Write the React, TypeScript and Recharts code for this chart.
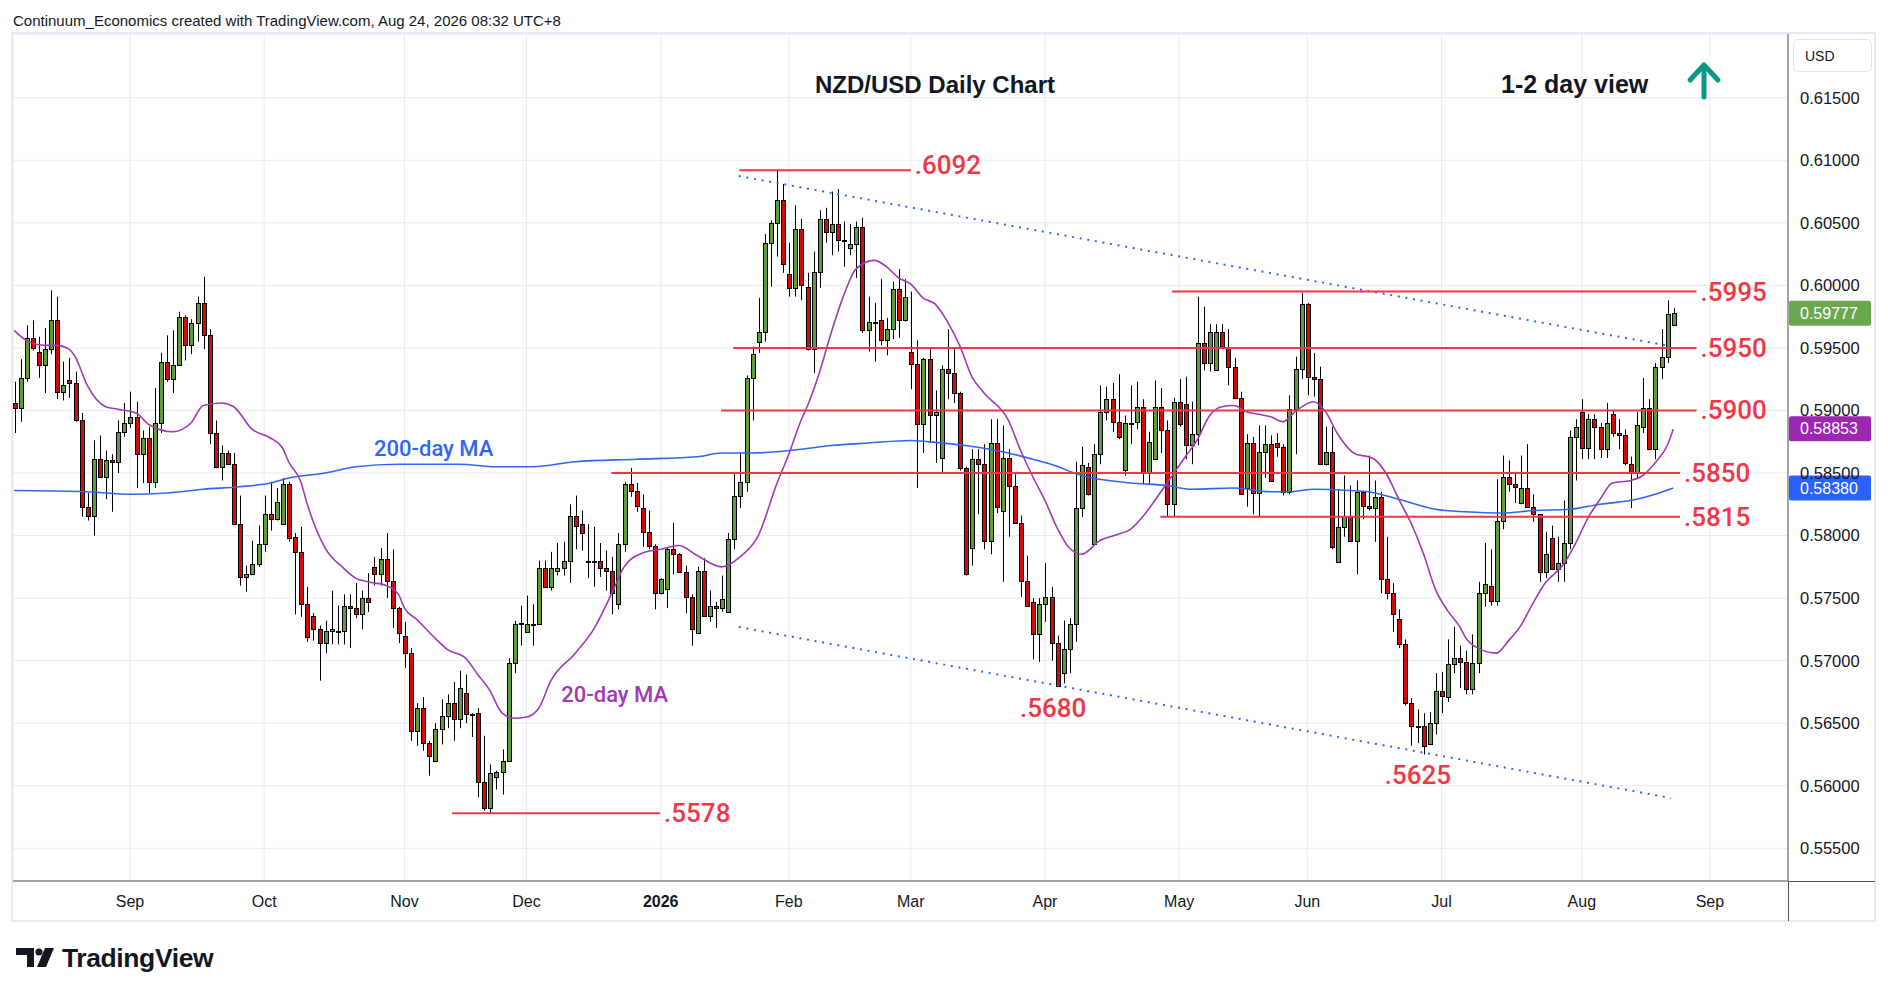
import React from 'react';
import {
  ComposedChart,
  Bar,
  Line,
  XAxis,
  YAxis,
  CartesianGrid,
  ReferenceLine,
  ReferenceDot,
} from 'recharts';

// daily candles, NZD/USD, index 0 = 5 Aug 2025 ... 272 = 24 Aug 2026
const opens = [
  0.5906, 0.5902, 0.5926, 0.5958, 0.5947, 0.5936, 0.5949, 0.5972, 0.5915, 0.5924,
  0.5922, 0.5892, 0.5823, 0.5816, 0.5861, 0.5847, 0.586, 0.5859, 0.5883, 0.589,
  0.5895, 0.5865, 0.5878, 0.5843, 0.589, 0.5939, 0.5925, 0.5936, 0.5975, 0.5952,
  0.597, 0.5986, 0.596, 0.5882, 0.5855, 0.5866, 0.5857, 0.5809, 0.5767, 0.5769,
  0.5777, 0.5793, 0.5817, 0.5813, 0.5809, 0.5841, 0.5799, 0.5787, 0.5745, 0.5736,
  0.5725, 0.5714, 0.5724, 0.5724, 0.5724, 0.5744, 0.5742, 0.5737, 0.575, 0.5775,
  0.5769, 0.5781, 0.5764, 0.5742, 0.572, 0.5706, 0.5644, 0.5662, 0.5634, 0.562,
  0.5645, 0.5656, 0.5666, 0.5653, 0.5674, 0.5657, 0.5658, 0.5603, 0.5582, 0.5607,
  0.5611, 0.562, 0.5698, 0.5729, 0.5723, 0.5729, 0.5729, 0.5774, 0.5759, 0.5772,
  0.5774, 0.578, 0.5816, 0.5809, 0.578, 0.578, 0.578, 0.5774, 0.5772, 0.5745,
  0.5793, 0.5841, 0.5836, 0.5822, 0.5803, 0.5792, 0.5754, 0.5757, 0.5789, 0.5785,
  0.5771, 0.5751, 0.5722, 0.5772, 0.5736, 0.5744, 0.5742, 0.5739, 0.5797, 0.5832,
  0.5843, 0.5926, 0.5955, 0.5963, 0.6034, 0.605, 0.6068, 0.6009, 0.5998, 0.6045,
  0.5999, 0.5949, 0.6011, 0.6053, 0.6043, 0.6049, 0.6036, 0.603, 0.6033, 0.6047,
  0.5964, 0.5971, 0.5972, 0.5956, 0.5965, 0.5997, 0.5972, 0.5947, 0.5937, 0.5889,
  0.5941, 0.5896, 0.5862, 0.5933, 0.593, 0.5914, 0.5854, 0.579, 0.5861, 0.5857,
  0.5796, 0.5874, 0.582, 0.5862, 0.584, 0.581, 0.5764, 0.5747, 0.5721, 0.5745,
  0.5751, 0.5714, 0.569, 0.5709, 0.5729, 0.5822, 0.5855, 0.5793, 0.5865, 0.5899,
  0.5909, 0.5891, 0.5852, 0.589, 0.5891, 0.5903, 0.5851, 0.5861, 0.5903, 0.5884,
  0.5825, 0.5907, 0.5905, 0.5872, 0.5881, 0.5954, 0.5938, 0.5932, 0.5963, 0.5951,
  0.5935, 0.591, 0.5838, 0.5874, 0.5834, 0.5867, 0.5873, 0.5874, 0.5871, 0.5835,
  0.5901, 0.5933, 0.5985, 0.5927, 0.5925, 0.5857, 0.5867, 0.5779, 0.5807, 0.5816,
  0.5796, 0.5835, 0.5824, 0.5822, 0.5831, 0.5765, 0.5754, 0.5733, 0.5713, 0.5666,
  0.5648, 0.5648, 0.5633, 0.565, 0.5676, 0.5671, 0.5697, 0.5702, 0.5699, 0.5677,
  0.5698, 0.5754, 0.576, 0.5748, 0.5812, 0.5847, 0.5841, 0.5826, 0.5838, 0.5823,
  0.5817, 0.5771, 0.5798, 0.5773, 0.5778, 0.5794, 0.5879, 0.5899, 0.587, 0.5893,
  0.5887, 0.5869, 0.5897, 0.5882, 0.588, 0.5857, 0.585, 0.5887, 0.5902, 0.5869,
  0.5935, 0.5943, 0.5968,
];

const highs = [
  0.5923, 0.5941, 0.5968, 0.5972, 0.5959, 0.5966, 0.5996, 0.5991, 0.5939, 0.5942,
  0.5931, 0.5898, 0.5834, 0.5876, 0.588, 0.5868, 0.5865, 0.5892, 0.5906, 0.5915,
  0.5907, 0.5884, 0.5887, 0.5918, 0.5946, 0.596, 0.5964, 0.5979, 0.5976, 0.5973,
  0.5991, 0.6007, 0.5965, 0.5892, 0.5872, 0.5868, 0.5866, 0.5832, 0.5776, 0.5796,
  0.5808, 0.5832, 0.5843, 0.5838, 0.5846, 0.5843, 0.5802, 0.5807, 0.5759, 0.5738,
  0.5728, 0.5732, 0.5756, 0.5744, 0.5753, 0.5753, 0.5762, 0.5756, 0.577, 0.5783,
  0.579, 0.5802, 0.5789, 0.5743, 0.5731, 0.571, 0.5666, 0.5671, 0.5636, 0.565,
  0.5669, 0.5673, 0.5683, 0.5692, 0.5689, 0.5658, 0.5662, 0.564, 0.5617, 0.5612,
  0.5629, 0.5702, 0.5732, 0.5744, 0.5752, 0.5745, 0.578, 0.578, 0.5787, 0.5794,
  0.5795, 0.5825, 0.5832, 0.582, 0.5809, 0.5807, 0.5794, 0.5788, 0.5783, 0.5802,
  0.5843, 0.5854, 0.5842, 0.5833, 0.582, 0.5793, 0.5766, 0.5791, 0.581, 0.5786,
  0.5776, 0.5753, 0.5775, 0.5782, 0.5756, 0.5747, 0.5768, 0.5802, 0.5851, 0.5866,
  0.5928, 0.5951, 0.599, 0.6041, 0.6052, 0.6092, 0.6081, 0.6034, 0.6064, 0.6053,
  0.601, 0.6027, 0.606, 0.6062, 0.6075, 0.6077, 0.6051, 0.6049, 0.6051, 0.6054,
  0.5991, 0.5986, 0.6005, 0.5974, 0.6003, 0.6013, 0.6005, 0.5995, 0.5956, 0.5942,
  0.5949, 0.5916, 0.5936, 0.5965, 0.5949, 0.5915, 0.5855, 0.5869, 0.5869, 0.5873,
  0.5893, 0.5893, 0.5888, 0.5869, 0.5849, 0.5816, 0.5784, 0.575, 0.575, 0.5778,
  0.5759, 0.572, 0.5732, 0.5734, 0.5859, 0.5871, 0.5858, 0.5873, 0.592, 0.5919,
  0.5922, 0.5929, 0.5896, 0.592, 0.5923, 0.5909, 0.5883, 0.5924, 0.5918, 0.5892,
  0.591, 0.5925, 0.5927, 0.5907, 0.5991, 0.5983, 0.5969, 0.5969, 0.5969, 0.5965,
  0.5942, 0.5915, 0.5881, 0.5879, 0.5888, 0.5888, 0.588, 0.5882, 0.5873, 0.5912,
  0.5943, 0.5994, 0.5986, 0.5946, 0.5935, 0.5887, 0.5887, 0.5837, 0.5848, 0.584,
  0.5844, 0.5835, 0.5864, 0.5844, 0.5835, 0.5799, 0.5762, 0.5741, 0.5717, 0.567,
  0.5661, 0.5658, 0.5659, 0.569, 0.5691, 0.5717, 0.5727, 0.5712, 0.5708, 0.5721,
  0.5763, 0.5794, 0.5789, 0.5845, 0.5864, 0.586, 0.5851, 0.5864, 0.5873, 0.5833,
  0.5817, 0.5803, 0.5808, 0.5799, 0.5828, 0.5884, 0.5893, 0.5909, 0.5897, 0.5897,
  0.589, 0.5906, 0.59, 0.5893, 0.5885, 0.5863, 0.5899, 0.5926, 0.5909, 0.5938,
  0.5965, 0.5988, 0.5982,
];

const lows = [
  0.5882, 0.5891, 0.5923, 0.5948, 0.5926, 0.5914, 0.5945, 0.5909, 0.5908, 0.591,
  0.5891, 0.5815, 0.5812, 0.58, 0.5846, 0.5829, 0.5819, 0.585, 0.5879, 0.5886,
  0.5838, 0.5842, 0.5834, 0.5838, 0.5882, 0.5923, 0.5914, 0.5936, 0.594, 0.5945,
  0.5955, 0.5949, 0.5873, 0.5855, 0.5844, 0.5857, 0.5809, 0.576, 0.5755, 0.5769,
  0.5775, 0.5787, 0.5804, 0.5812, 0.5809, 0.5795, 0.5737, 0.5735, 0.5715, 0.5716,
  0.5684, 0.5706, 0.5713, 0.5713, 0.5713, 0.571, 0.5734, 0.5725, 0.5739, 0.576,
  0.576, 0.575, 0.5726, 0.5714, 0.5694, 0.5636, 0.5632, 0.5628, 0.5608, 0.5619,
  0.5633, 0.5646, 0.5636, 0.5646, 0.565, 0.5639, 0.5591, 0.558, 0.5578, 0.5597,
  0.5593, 0.562, 0.569, 0.5712, 0.5723, 0.5712, 0.5729, 0.5759, 0.5756, 0.5768,
  0.5768, 0.5762, 0.5789, 0.5788, 0.5766, 0.5759, 0.5767, 0.5756, 0.5737, 0.5741,
  0.5787, 0.5831, 0.5819, 0.5791, 0.5789, 0.5741, 0.5753, 0.5742, 0.5769, 0.577,
  0.5738, 0.5712, 0.5722, 0.5736, 0.5731, 0.5726, 0.5739, 0.5738, 0.5789, 0.5822,
  0.5835, 0.5892, 0.5946, 0.5955, 0.5999, 0.6023, 0.601, 0.5991, 0.5991, 0.5988,
  0.5948, 0.593, 0.5998, 0.6034, 0.6024, 0.6027, 0.6015, 0.6024, 0.6006, 0.5962,
  0.5947, 0.5939, 0.5952, 0.5944, 0.5957, 0.5958, 0.5971, 0.5917, 0.5838, 0.5866,
  0.5874, 0.5858, 0.585, 0.5909, 0.5906, 0.5852, 0.5768, 0.5776, 0.5817, 0.5789,
  0.5785, 0.5818, 0.5763, 0.5799, 0.581, 0.5751, 0.5744, 0.5701, 0.5699, 0.5731,
  0.57, 0.568, 0.5682, 0.569, 0.5715, 0.5815, 0.5832, 0.5793, 0.5857, 0.5892,
  0.5883, 0.5877, 0.5848, 0.5873, 0.5885, 0.5841, 0.5841, 0.5861, 0.5866, 0.5815,
  0.5815, 0.5887, 0.5861, 0.5857, 0.5872, 0.5932, 0.5931, 0.5932, 0.5949, 0.592,
  0.5909, 0.5833, 0.5823, 0.5817, 0.5815, 0.5846, 0.5844, 0.5863, 0.5832, 0.5833,
  0.5865, 0.5925, 0.5912, 0.5911, 0.5857, 0.5856, 0.5789, 0.5778, 0.5799, 0.5795,
  0.5769, 0.5813, 0.582, 0.5795, 0.5754, 0.5749, 0.5723, 0.571, 0.5664, 0.5632,
  0.5634, 0.5625, 0.5633, 0.5641, 0.5658, 0.5667, 0.569, 0.5678, 0.5673, 0.5673,
  0.569, 0.5743, 0.5744, 0.5744, 0.5805, 0.5835, 0.5826, 0.5825, 0.5823, 0.5811,
  0.5763, 0.5766, 0.5773, 0.5763, 0.5763, 0.5789, 0.5844, 0.5861, 0.5861, 0.5861,
  0.5862, 0.5862, 0.5879, 0.5869, 0.5856, 0.5822, 0.5846, 0.5882, 0.5869, 0.5861,
  0.5925, 0.5938, 0.5968,
];

const closes = [
  0.5902, 0.5926, 0.5958, 0.595, 0.5936, 0.5949, 0.5972, 0.5915, 0.592, 0.5922,
  0.5892, 0.5823, 0.5816, 0.5861, 0.5847, 0.586, 0.5859, 0.5883, 0.589, 0.5895,
  0.5865, 0.5878, 0.5843, 0.589, 0.5939, 0.5925, 0.5936, 0.5975, 0.5952, 0.597,
  0.5986, 0.596, 0.5882, 0.5855, 0.5866, 0.5857, 0.5809, 0.5767, 0.5769, 0.5777,
  0.5793, 0.5817, 0.5813, 0.5827, 0.5841, 0.5798, 0.5787, 0.5745, 0.5719, 0.5725,
  0.5714, 0.5724, 0.5725, 0.5723, 0.5744, 0.5742, 0.5737, 0.575, 0.5747, 0.5769,
  0.5781, 0.5764, 0.5742, 0.5722, 0.5706, 0.5644, 0.5662, 0.5634, 0.5624, 0.5645,
  0.5656, 0.5666, 0.5653, 0.5678, 0.5657, 0.5657, 0.5603, 0.5582, 0.561, 0.5611,
  0.562, 0.5698, 0.5729, 0.573, 0.5729, 0.5729, 0.5774, 0.5759, 0.5774, 0.5774,
  0.578, 0.5816, 0.5808, 0.5802, 0.578, 0.578, 0.5774, 0.5772, 0.5754, 0.5793,
  0.5841, 0.5836, 0.5824, 0.5803, 0.5792, 0.5754, 0.5765, 0.5789, 0.5785, 0.5771,
  0.5751, 0.5725, 0.5772, 0.5736, 0.5744, 0.5742, 0.5749, 0.5797, 0.5832, 0.5843,
  0.5926, 0.5945, 0.5963, 0.6034, 0.605, 0.6068, 0.6017, 0.5998, 0.6045, 0.6,
  0.5949, 0.6011, 0.6053, 0.6043, 0.6049, 0.6036, 0.6036, 0.6033, 0.6047, 0.5964,
  0.5971, 0.5971, 0.5956, 0.5965, 0.5997, 0.5972, 0.5991, 0.5937, 0.5889, 0.5941,
  0.5896, 0.5899, 0.5933, 0.593, 0.5914, 0.5854, 0.5769, 0.5861, 0.5857, 0.5796,
  0.5874, 0.5823, 0.5862, 0.584, 0.581, 0.5764, 0.5744, 0.5721, 0.5745, 0.5751,
  0.5714, 0.568, 0.5709, 0.5729, 0.5822, 0.5856, 0.5833, 0.5865, 0.5899, 0.5909,
  0.5891, 0.5879, 0.589, 0.5889, 0.5903, 0.5851, 0.5875, 0.5903, 0.5884, 0.5825,
  0.5907, 0.5889, 0.5872, 0.5881, 0.5954, 0.5938, 0.5963, 0.5963, 0.5951, 0.5935,
  0.591, 0.5833, 0.5874, 0.5834, 0.5867, 0.5873, 0.5844, 0.5871, 0.5835, 0.5901,
  0.5933, 0.5985, 0.5927, 0.5925, 0.5857, 0.5867, 0.5791, 0.5807, 0.5816, 0.5796,
  0.5835, 0.5824, 0.5822, 0.5831, 0.5765, 0.5754, 0.5737, 0.5713, 0.5666, 0.5648,
  0.5648, 0.5632, 0.565, 0.5676, 0.5672, 0.5697, 0.5702, 0.5699, 0.5677, 0.5698,
  0.5754, 0.5761, 0.5748, 0.5812, 0.5847, 0.5841, 0.5839, 0.5838, 0.5823, 0.5817,
  0.5771, 0.5785, 0.5773, 0.5778, 0.5794, 0.5879, 0.5887, 0.587, 0.5893, 0.5887,
  0.5869, 0.589, 0.5882, 0.588, 0.5858, 0.585, 0.5888, 0.5902, 0.5869, 0.5935,
  0.5943, 0.5977, 0.5978,
];

// moving averages: [candle index, value]
const ma20Points = [
  [0, 0.5964], [2, 0.5956], [5, 0.5952], [7, 0.5952], [9, 0.5949], [10, 0.5943], [12, 0.592],
  [15, 0.5903], [17, 0.5901], [20, 0.5898], [22, 0.5889], [26, 0.5883], [29, 0.589], [31, 0.5904],
  [34, 0.5906], [36, 0.5903], [39, 0.5885], [42, 0.5878], [44, 0.587], [45, 0.5859], [47, 0.5843],
  [48, 0.5826], [51, 0.579], [54, 0.5774], [56, 0.5766], [58, 0.5763], [61, 0.576], [63, 0.5753],
  [64, 0.5742], [66, 0.5733], [69, 0.5718], [71, 0.5709], [74, 0.5702], [76, 0.5689], [78, 0.5676],
  [80, 0.5658], [82, 0.5654], [84, 0.5655], [86, 0.5662], [88, 0.5684], [92, 0.5706], [95, 0.5725],
  [98, 0.5754], [100, 0.5775], [103, 0.5786], [106, 0.5789], [109, 0.5792], [112, 0.5784],
  [116, 0.5775], [119, 0.5783], [122, 0.58], [125, 0.5841], [127, 0.5865], [129, 0.5892],
  [130, 0.5903], [132, 0.593], [134, 0.5963], [136, 0.5992], [138, 0.6013], [141, 0.602],
  [143, 0.6015], [145, 0.6006], [147, 0.6001], [149, 0.599], [151, 0.5985], [153, 0.5971],
  [155, 0.5952], [157, 0.5927], [159, 0.5914], [163, 0.5892], [165, 0.5868], [167, 0.5847],
  [169, 0.5828], [171, 0.5806], [173, 0.579], [175, 0.5785], [178, 0.5796], [181, 0.5801],
  [183, 0.5805], [185, 0.5815], [188, 0.5835], [190, 0.5849], [192, 0.5863], [194, 0.5877],
  [196, 0.5896], [198, 0.5903], [200, 0.5904], [202, 0.5899], [204, 0.5897], [206, 0.5895],
  [208, 0.5891], [210, 0.5899], [213, 0.5907], [215, 0.5899], [217, 0.5881], [220, 0.5865],
  [222, 0.5863], [223, 0.5861], [225, 0.5849], [227, 0.5829], [229, 0.581], [231, 0.5786],
  [233, 0.5757], [235, 0.574], [237, 0.5727], [238, 0.5718], [240, 0.571], [243, 0.5706],
  [245, 0.5716], [247, 0.5728], [249, 0.5746], [251, 0.5762], [254, 0.5777], [256, 0.5794],
  [258, 0.5814], [260, 0.5829], [262, 0.5842], [265, 0.5844], [267, 0.5848], [269, 0.5858],
  [271, 0.5872], [272, 0.5885],
];

const ma200Points = [
  [0, 0.5836], [12, 0.5835], [19, 0.5833], [25, 0.5834], [31, 0.5837], [37, 0.5839], [42, 0.5842],
  [45, 0.5846], [51, 0.585], [56, 0.5855], [63, 0.5857], [73, 0.5857], [79, 0.5855], [85, 0.5855],
  [92, 0.5859], [102, 0.5861], [112, 0.5863], [116, 0.5866], [121, 0.5866], [129, 0.5869],
  [134, 0.5872], [140, 0.5874], [147, 0.5876], [152, 0.5874], [156, 0.5872], [162, 0.5867],
  [167, 0.5861], [170, 0.5857], [175, 0.5848], [183, 0.5842], [189, 0.584], [193, 0.5837],
  [200, 0.5838], [206, 0.5835], [209, 0.5835], [213, 0.5837], [219, 0.5836], [222, 0.5835],
  [227, 0.5829], [233, 0.5821], [238, 0.5819], [244, 0.5818], [249, 0.582], [255, 0.5821],
  [260, 0.5825], [266, 0.5829], [269, 0.5833], [272, 0.5838],
];

const monthStarts = [19, 41, 64, 84, 106, 127, 147, 169, 191, 212, 234, 257, 278];
const monthLabels = ['Sep', 'Oct', 'Nov', 'Dec', '2026', 'Feb', 'Mar', 'Apr', 'May', 'Jun', 'Jul', 'Aug', 'Sep'];
const priceTicks = [0.555, 0.56, 0.565, 0.57, 0.575, 0.58, 0.585, 0.59, 0.595, 0.6, 0.605, 0.61, 0.615];

// horizontal levels: price, first and last candle index, label
const levels = [
  { price: 0.6092, from: 118.9, to: 147, text: '.6092' },
  { price: 0.5995, from: 189.8, to: 275.8, text: '.5995' },
  { price: 0.595, from: 117.9, to: 275.8, text: '.5950' },
  { price: 0.59, from: 115.9, to: 275.8, text: '.5900' },
  { price: 0.585, from: 97.9, to: 273.1, text: '.5850' },
  { price: 0.5815, from: 187.9, to: 273.1, text: '.5815' },
  { price: 0.5578, from: 71.8, to: 105.9, text: '.5578' },
];

const channelTop = [[118.8, 0.60874], [271, 0.59519]];
const channelBottom = [[118.8, 0.57269], [271.6, 0.55902]];

const notes = [
  { i: 164.9, price: 0.56622, text: '.5680', kind: 'level' },
  { i: 224.7, price: 0.56087, text: '.5625', kind: 'level' },
  { i: 59.0, price: 0.58692, text: '200-day MA', kind: 'ma200' },
  { i: 89.7, price: 0.56733, text: '20-day MA', kind: 'ma20' },
];

const lastPrice = 0.59777;
const lastMa20 = 0.58853;
const lastMa200 = 0.5838;

const GREEN = '#5d9b3e';
const RED = '#d10a0a';
const LEVEL = '#f23645';
const PURPLE = '#a13ab6';
const BLUE = '#2f66f6';
const FONT = "'Liberation Sans', Arial, sans-serif";
const LABEL_FONT = "Roboto, 'Liberation Sans', sans-serif";

const data = opens.map((o, i) => ({
  i,
  o,
  h: highs[i],
  l: lows[i],
  c: closes[i],
  range: [lows[i], highs[i]],
  ma20: null as number | null,
  ma200: null as number | null,
}));
ma20Points.forEach(([i, v]) => { if (data[i]) data[i].ma20 = v; });
ma200Points.forEach(([i, v]) => { if (data[i]) data[i].ma200 = v; });

const Candle = (props: any) => {
  const { x, y, width, height, payload } = props;
  if (x == null || !payload) return null;
  const { o, h, l, c } = payload;
  const top = Math.min(y, y + height);
  const bot = Math.max(y, y + height);
  const k = h > l ? (bot - top) / (h - l) : 0;
  const py = (v: number) => top + (h - v) * k;
  const cx = Math.round(x + width / 2);
  const bTop = Math.round(py(Math.max(o, c)));
  const bBot = Math.max(Math.round(py(Math.min(o, c))), bTop + 1);
  return (
    <g>
      <line x1={cx + 0.5} x2={cx + 0.5} y1={top} y2={bot} stroke="#000" strokeWidth={1} />
      <rect
        x={cx - 1.5}
        y={bTop + 0.5}
        width={4}
        height={bBot - bTop}
        fill={c >= o ? GREEN : RED}
        stroke="#000"
        strokeWidth={1}
      />
    </g>
  );
};

const MonthTick = (props: any) => {
  const { x, y, payload } = props;
  const idx = monthStarts.indexOf(payload.value);
  const txt = monthLabels[idx] ?? '';
  return (
    <text
      x={x}
      y={y}
      textAnchor="middle"
      dominantBaseline="central"
      fontSize={16}
      fontFamily={FONT}
      fontWeight={txt === '2026' ? 700 : 400}
      fill="#131722"
    >
      {txt}
    </text>
  );
};

const levelLabel = (text: string) => (props: any) => {
  const vb = props.viewBox || {};
  const right = (vb.x ?? 0) + (vb.width ?? 0);
  const up = text === '.6092' ? -5 : 0;
  return (
    <text
      x={right + 4}
      y={(vb.y ?? 0) + up}
      dominantBaseline="central"
      fontSize={26}
      fontWeight={500}
      fontFamily={LABEL_FONT}
      fill={LEVEL}
    >
      {text}
    </text>
  );
};

const priceTag = (value: number, color: string) => (props: any) => {
  const vb = props.viewBox || {};
  const right = (vb.x ?? 0) + (vb.width ?? 0);
  const y = vb.y ?? 0;
  return (
    <g>
      <rect x={right + 1} y={y - 12.5} width={82} height={25} rx={2} fill={color} />
      <text x={right + 12} y={y} dominantBaseline="central" fontSize={16} fontFamily={FONT} fill="#fff">
        {value.toFixed(5)}
      </text>
    </g>
  );
};

const noteLabel = (n: { text: string; kind: string }) => (props: any) => {
  const vb = props.viewBox || {};
  const cx = (vb.x ?? 0) + (vb.width ?? 0) / 2;
  const cy = (vb.y ?? 0) + (vb.height ?? 0) / 2;
  const color = n.kind === 'ma200' ? BLUE : n.kind === 'ma20' ? PURPLE : LEVEL;
  const size = n.kind === 'level' ? 26 : 22;
  return (
    <text
      x={cx}
      y={cy}
      dominantBaseline="central"
      fontSize={size}
      fontWeight={500}
      fontFamily={LABEL_FONT}
      fill={color}
    >
      {n.text}
    </text>
  );
};

export default function App() {
  return (
    <div style={{ position: 'relative', width: 1888, height: 996, background: '#fff' }}>
      <style>{'body{margin:0;background:#fff}'}</style>
      <ComposedChart
        width={1888}
        height={996}
        data={data}
        margin={{ top: 34, right: 13, bottom: 75, left: 13 }}
      >
        <CartesianGrid stroke="#e6ecf2" strokeWidth={1} />
        <XAxis
          dataKey="i"
          type="number"
          domain={[-0.18, 290.8]}
          allowDataOverflow
          ticks={monthStarts}
          interval={0}
          height={40}
          tickSize={0}
          tickMargin={20}
          tickLine={false}
          axisLine={{ stroke: '#50535e' }}
          tick={<MonthTick />}
        />
        <YAxis
          orientation="right"
          type="number"
          domain={[0.552386, 0.620092]}
          allowDataOverflow
          ticks={priceTicks}
          interval={0}
          width={87}
          tickSize={0}
          tickMargin={12}
          tickLine={false}
          axisLine={{ stroke: '#50535e' }}
          tickFormatter={(v: number) => v.toFixed(5)}
          tick={{ fill: '#131722', fontSize: 16.5, fontFamily: FONT }}
        />
        <Line
          dataKey="ma200"
          type="monotone"
          stroke={BLUE}
          strokeWidth={1.6}
          dot={false}
          connectNulls
          isAnimationActive={false}
        />
        <Line
          dataKey="ma20"
          type="monotone"
          stroke={PURPLE}
          strokeWidth={1.6}
          dot={false}
          connectNulls
          isAnimationActive={false}
        />
        <Bar dataKey="range" barSize={5} shape={<Candle />} isAnimationActive={false} />
        <ReferenceLine
          segment={[{ x: channelTop[0][0], y: channelTop[0][1] }, { x: channelTop[1][0], y: channelTop[1][1] }]}
          stroke={BLUE}
          strokeWidth={2}
          strokeDasharray="2 5.7"
          ifOverflow="visible"
        />
        <ReferenceLine
          segment={[{ x: channelBottom[0][0], y: channelBottom[0][1] }, { x: channelBottom[1][0], y: channelBottom[1][1] }]}
          stroke={BLUE}
          strokeWidth={2}
          strokeDasharray="2 5.7"
          ifOverflow="visible"
        />
        {levels.map((lv) => (
          <ReferenceLine
            key={lv.text}
            segment={[{ x: lv.from, y: lv.price }, { x: lv.to, y: lv.price }]}
            stroke={LEVEL}
            strokeWidth={2}
            ifOverflow="visible"
            label={levelLabel(lv.text)}
          />
        ))}
        {notes.map((n) => (
          <ReferenceDot
            key={n.text}
            x={n.i}
            y={n.price}
            r={1}
            fill="none"
            stroke="none"
            ifOverflow="visible"
            label={noteLabel(n)}
          />
        ))}
        <ReferenceLine y={lastMa200} stroke="none" ifOverflow="visible" label={priceTag(lastMa200, '#2962ff')} />
        <ReferenceLine y={lastMa20} stroke="none" ifOverflow="visible" label={priceTag(lastMa20, '#9c27b0')} />
        <ReferenceLine y={lastPrice} stroke="none" ifOverflow="visible" label={priceTag(lastPrice, '#6aa84f')} />
      </ComposedChart>

      <svg
        width={1888}
        height={996}
        style={{ position: 'absolute', left: 0, top: 0, pointerEvents: 'none' }}
      >
        <text x={13} y={26} fontSize={15} fontFamily={FONT} fill="#131722">
          Continuum_Economics created with TradingView.com, Aug 24, 2026 08:32 UTC+8
        </text>
        <rect x={12} y={33} width={1863} height={888} fill="none" stroke="#e0e3eb" strokeWidth={1.5} />
        <line x1={1788} x2={1875} y1={881.5} y2={881.5} stroke="#50535e" strokeWidth={1} />
        <line x1={1788.5} x2={1788.5} y1={881} y2={921} stroke="#50535e" strokeWidth={1} />
        <rect x={1793.5} y={39.5} width={78} height={32} rx={5} fill="#fff" stroke="#e0e3eb" />
        <text x={1805} y={56} dominantBaseline="central" fontSize={14} fontFamily={FONT} fill="#131722">
          USD
        </text>
        <text x={935} y={93} textAnchor="middle" fontSize={24} fontWeight={700} fontFamily={FONT} fill="#131722">
          NZD/USD Daily Chart
        </text>
        <text x={1501} y={93} fontSize={25} fontWeight={700} fontFamily={FONT} fill="#131722">
          1-2 day view
        </text>
        <g stroke="#089981" strokeWidth={5} strokeLinecap="round" strokeLinejoin="round" fill="none">
          <line x1={1704} x2={1704} y1={67} y2={97} />
          <polyline points="1690,80 1704,65 1718,80" />
        </g>
        <g fill="#131722">
          <path d="M16 948 H34 V967 H27 V955 H16 Z" />
          <circle cx={39} cy={952} r={3.6} />
          <path d="M45 948 H54 L46 967 H37 Z" />
        </g>
        <text x={62} y={967} fontSize={26.5} fontWeight={700} fontFamily={FONT} fill="#131722" letterSpacing={-0.4}>
          TradingView
        </text>
      </svg>
    </div>
  );
}
